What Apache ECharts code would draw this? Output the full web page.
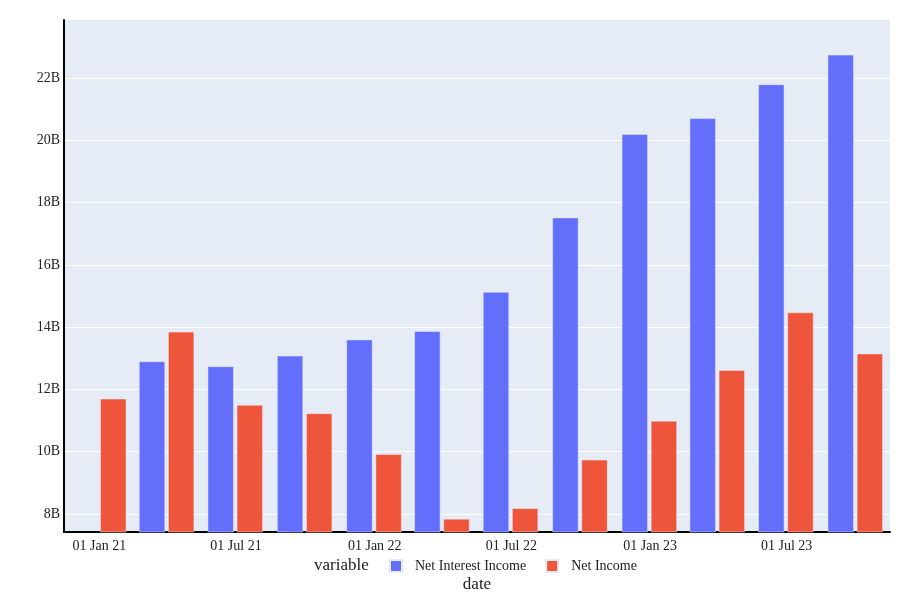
<!DOCTYPE html>
<html>
<head>
<meta charset="utf-8">
<script src="https://cdn.jsdelivr.net/npm/echarts@6/dist/echarts.min.js"></script>
<style>
  html, body { margin: 0; padding: 0; background: #fff; }
  #chart { width: 900px; height: 600px; }
</style>
</head>
<body>
<div id="chart"></div>
<script>
// quarter-end dates
var dates = ['2020-12-31', '2021-03-31', '2021-06-30', '2021-09-30', '2021-12-31', '2022-03-31',
  '2022-06-30', '2022-09-30', '2022-12-31', '2023-03-31', '2023-06-30', '2023-09-30']
// values in billions
var netInterestIncome = [null, 12.90, 12.74, 13.08, 13.60, 13.87, 15.13, 17.52, 20.20, 20.71, 21.80, 22.75]
var netIncome = [11.70, 13.85, 11.50, 11.23, 9.92, 7.84, 8.18, 9.74, 10.99, 12.62, 14.47, 13.15]
var yTicks = [8, 10, 12, 14, 16, 18, 20, 22]
var xTicks = ['2021-01-01', '2021-07-01', '2022-01-01', '2022-07-01', '2023-01-01', '2023-07-01']
var monthNames = ['Jan', 'Feb', 'Mar', 'Apr', 'May', 'Jun', 'Jul', 'Aug', 'Sep', 'Oct', 'Nov', 'Dec']

var font = '"Liberation Serif", "Times New Roman", serif'

function ms(d) {
  return Date.UTC(+d.slice(0, 4), +d.slice(5, 7) - 1, +d.slice(8, 10))
}

function pairs(vals) {
  return dates.map(function (d, i) {
    return [ms(d), vals[i] == null ? null : vals[i] * 1e9]
  })
}

var chart = echarts.init(document.getElementById('chart'))
var options = {
  animation: false,
  textStyle: { fontFamily: font },
  grid: { left: 64, right: 10, top: 20, bottom: 68, show: true, backgroundColor: '#E5ECF6', borderWidth: 0 },
  title: {
    text: 'variable',
    left: 309, top: 552,
    textStyle: { fontFamily: font, fontSize: 17, fontWeight: 'normal', color: '#222' }
  },
  legend: {
    left: 384, top: 554,
    itemWidth: 12, itemHeight: 12, itemGap: 19,
    icon: 'rect',
    textStyle: { fontFamily: font, fontSize: 14, color: '#222', padding: [0, 0, 0, 8] },
    data: ['Net Interest Income', 'Net Income']
  },
  xAxis: {
    type: 'value',
    min: ms('2020-11-15'),
    max: ms('2023-11-15'),
    name: 'date',
    nameLocation: 'middle',
    nameGap: 44,
    nameTextStyle: { fontFamily: font, fontSize: 17, color: '#222' },
    axisLine: { show: true, onZero: false, lineStyle: { color: '#000', width: 2 } },
    axisTick: { show: false, customValues: xTicks.map(ms) },
    splitLine: { show: false },
    axisLabel: {
      customValues: xTicks.map(ms),
      margin: 7,
      fontFamily: font, fontSize: 14, color: '#222',
      formatter: function (v) {
        var d = new Date(v)
        var dd = ('0' + d.getUTCDate()).slice(-2)
        return dd + ' ' + monthNames[d.getUTCMonth()] + ' ' + String(d.getUTCFullYear()).slice(-2)
      }
    }
  },
  yAxis: {
    type: 'value',
    min: 7.42e9,
    max: 23.87e9,
    axisLine: { show: true, onZero: false, lineStyle: { color: '#000', width: 2 } },
    axisTick: { show: false, customValues: yTicks.map(function (v) { return v * 1e9 }) },
    splitLine: { show: true, lineStyle: { color: '#fff', width: 1 } },
    axisLabel: {
      customValues: yTicks.map(function (v) { return v * 1e9 }),
      margin: 4,
      fontFamily: font, fontSize: 14, color: '#222',
      formatter: function (v) { return Math.round(v / 1e9) + 'B' }
    }
  },
  series: [{
    name: 'Net Interest Income',
    type: 'bar',
    barWidth: 26,
    barGap: '12%',
    itemStyle: { color: '#636EFA', borderColor: '#E5ECF6', borderWidth: 0.5 },
    data: pairs(netInterestIncome)
  }, {
    name: 'Net Income',
    type: 'bar',
    barWidth: 26,
    barGap: '12%',
    itemStyle: { color: '#EF553B', borderColor: '#E5ECF6', borderWidth: 0.5 },
    data: pairs(netIncome)
  }]
}
chart.setOption(options)
</script>
</body>
</html>
